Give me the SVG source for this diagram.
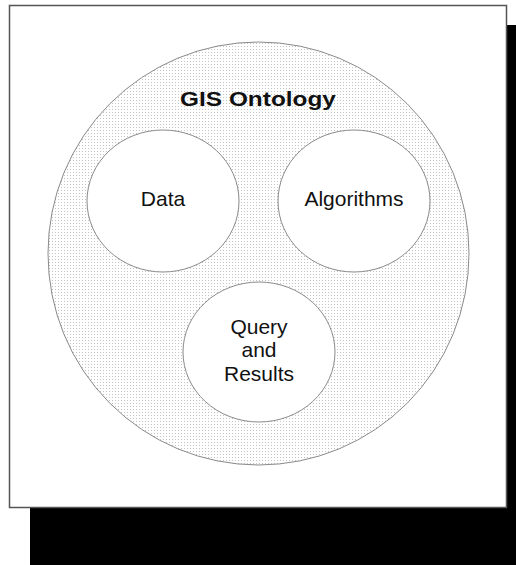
<svg xmlns="http://www.w3.org/2000/svg" width="516" height="565" viewBox="0 0 516 565">
<style>
.lbl{font-family:"Liberation Sans",Arial,sans-serif;font-size:21px;fill:#111;text-anchor:middle}
.ttl{font-family:"Liberation Sans",Arial,sans-serif;font-size:20px;font-weight:bold;fill:#111;text-anchor:middle}
.inner{fill:#fff;stroke:#8a8a8a;stroke-width:1}
</style>
<defs>
<pattern id="dots" width="3" height="3" patternUnits="userSpaceOnUse">
<rect width="3" height="3" fill="#fff"/>
<rect x="1" y="1" width="1" height="1" fill="#c4c4c4"/>
</pattern>
</defs>
<rect width="516" height="565" fill="#fff"/>
<g id="frame">
<rect x="30" y="508" width="486" height="57" fill="#000"/>
<rect x="507" y="25" width="9" height="540" fill="#000"/>
<rect x="9.5" y="5.5" width="497" height="502" fill="#fff" stroke="#555" stroke-width="1.5"/>
</g>
<g id="gis-ontology">
<ellipse cx="258.5" cy="253.5" rx="210.5" ry="211.5" fill="url(#dots)" stroke="#8a8a8a" stroke-width="1"/>
<text class="ttl" transform="translate(258,106) scale(1.22,1)" x="0" y="0">GIS Ontology</text>
</g>
<g id="data">
<ellipse class="inner" cx="163" cy="201" rx="76" ry="71"/>
<text class="lbl" x="163" y="206">Data</text>
</g>
<g id="algorithms">
<ellipse class="inner" cx="354" cy="201" rx="76" ry="71"/>
<text class="lbl" x="354" y="206">Algorithms</text>
</g>
<g id="query-results">
<ellipse class="inner" cx="259" cy="352" rx="76" ry="70"/>
<text class="lbl" x="259" y="334">Query</text>
<text class="lbl" x="259" y="357">and</text>
<text class="lbl" x="259" y="381">Results</text>
</g>
<g id="connectors"/>
</svg>
